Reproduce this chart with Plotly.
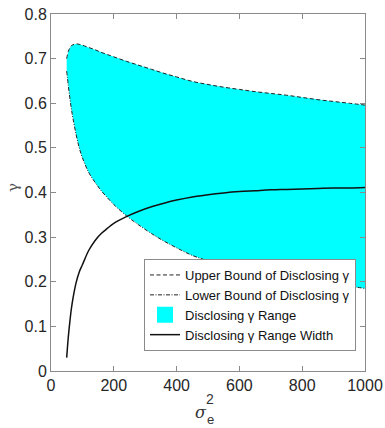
import plotly.graph_objects as go

sigma = [50, 55, 60, 65, 70, 80, 90, 100, 120, 140, 160, 180, 200, 240, 280, 320,
         360, 400, 450, 500, 550, 600, 650, 700, 750, 800, 850, 900, 950, 1000]
upper = [0.700, 0.716, 0.724, 0.729, 0.731, 0.733, 0.732, 0.730, 0.725, 0.720, 0.714,
         0.709, 0.704, 0.694, 0.685, 0.676, 0.667, 0.659, 0.649, 0.642, 0.636, 0.631,
         0.626, 0.622, 0.618, 0.613, 0.608, 0.604, 0.600, 0.596]
lower = [0.672, 0.640, 0.612, 0.587, 0.566, 0.530, 0.500, 0.478, 0.445, 0.423, 0.404,
         0.388, 0.373, 0.348, 0.327, 0.308, 0.291, 0.276, 0.259, 0.247, 0.237, 0.229,
         0.222, 0.216, 0.211, 0.205, 0.199, 0.194, 0.190, 0.185]
width = [0.030, 0.075, 0.110, 0.140, 0.163, 0.198, 0.222, 0.238, 0.270, 0.292, 0.308,
         0.320, 0.331, 0.346, 0.358, 0.368, 0.376, 0.383, 0.390, 0.395, 0.399, 0.402,
         0.404, 0.406, 0.407, 0.408, 0.409, 0.410, 0.410, 0.411]

xticks = [0, 200, 400, 600, 800, 1000]
yticks = [0, 0.1, 0.2, 0.3, 0.4, 0.5, 0.6, 0.7, 0.8]

W, H = 385, 428
L, R, T, B = 51, 20, 14, 57
PW, PH = W - L - R, H - T - B


def px(xp):
    return (xp - L) / PW


def py(yp):
    return (H - B - yp) / PH


fig = go.Figure()
fig.add_trace(go.Scatter(
    x=sigma + sigma[::-1], y=upper + lower[::-1], fill="toself",
    fillcolor="#00FFFF", line=dict(width=0, color="#00FFFF"), mode="lines",
    showlegend=False, hoverinfo="skip"))
fig.add_trace(go.Scatter(
    x=sigma, y=upper, mode="lines", name="Upper Bound of Disclosing γ",
    line=dict(color="#222222", width=1, dash="4px,2.5px", shape="spline"), legendrank=1))
fig.add_trace(go.Scatter(
    x=sigma, y=lower, mode="lines", name="Lower Bound of Disclosing γ",
    line=dict(color="#222222", width=1, dash="4px,1.5px,1px,1.5px", shape="spline"),
    legendrank=2))
fig.add_trace(go.Scatter(
    x=[None], y=[None], mode="markers", name="Disclosing γ Range",
    marker=dict(symbol="square", size=17, color="#00FFFF", line=dict(width=0)),
    legendrank=3))
fig.add_trace(go.Scatter(
    x=sigma, y=width, mode="lines", name="Disclosing γ Range Width",
    line=dict(color="#111111", width=1.5, shape="spline"), legendrank=4))

axis_common = dict(
    showline=True, linecolor="#8a8a8a", linewidth=1, mirror="ticks",
    ticks="inside", ticklen=5, tickcolor="#8a8a8a", showgrid=False, zeroline=False,
    automargin=False,
    tickfont=dict(family="Liberation Sans, Arial", size=16, color="#262626"))

fig.update_xaxes(range=[0, 1000], tickvals=xticks, **axis_common)
fig.update_yaxes(range=[0, 0.8], tickvals=yticks,
                 ticktext=[f"{v:g}" for v in yticks], **axis_common)

fig.update_layout(
    width=W, height=H,
    margin=dict(l=L, r=R, t=T, b=B, autoexpand=False),
    paper_bgcolor="white", plot_bgcolor="white",
    showlegend=True,
    legend=dict(x=px(144), y=py(351), xanchor="left", yanchor="bottom",
                bgcolor="white", bordercolor="#8a8a8a", borderwidth=1,
                font=dict(family="Liberation Sans, Arial", size=13, color="#111111"),
                itemwidth=30, tracegroupgap=0),
    annotations=[
        dict(text="γ", xref="paper", yref="paper", x=px(13), y=py(188),
             showarrow=False, textangle=-90, xanchor="center", yanchor="middle",
             font=dict(family="DejaVu Serif", size=15, color="#555555")),
        dict(text="<i>σ</i>", xref="paper", yref="paper", x=px(201), y=py(412),
             showarrow=False, xanchor="center", yanchor="middle",
             font=dict(family="DejaVu Serif", size=16, color="#333333")),
        dict(text="2", xref="paper", yref="paper", x=px(210), y=py(399),
             showarrow=False, xanchor="center", yanchor="middle",
             font=dict(family="Liberation Sans, Arial", size=14, color="#333333")),
        dict(text="e", xref="paper", yref="paper", x=px(210), y=py(419),
             showarrow=False, xanchor="center", yanchor="middle",
             font=dict(family="Liberation Sans, Arial", size=13, color="#333333")),
    ],
)

fig.write_html("out.html")
